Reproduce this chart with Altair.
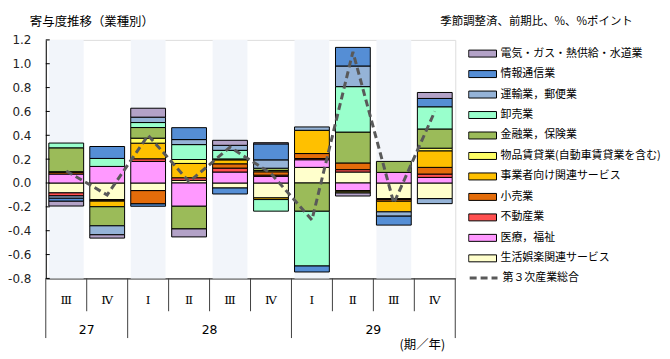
import altair as alt
import pandas as pd

# ---------------- data ----------------
quarter_labels = ["Ⅲ", "Ⅳ", "Ⅰ", "Ⅱ", "Ⅲ", "Ⅳ", "Ⅰ", "Ⅱ", "Ⅲ", "Ⅳ"]
quarter_years = ["27", "27", "28", "28", "28", "28", "29", "29", "29", "29"]
shaded = [True, False, True, False, True, False, True, False, True, False]

# stacking order (first = nearest zero)
series = [
    "生活娯楽関連サービス",
    "医療，福祉",
    "不動産業",
    "小売業",
    "事業者向け関連サービス",
    "物品賃貸業(自動車賃貸業を含む)",
    "金融業，保険業",
    "卸売業",
    "運輸業，郵便業",
    "情報通信業",
    "電気・ガス・熱供給・水道業",
]
colors = [
    "#FFFFCC",
    "#FF99FF",
    "#FF5050",
    "#E46C0A",
    "#FFC000",
    "#FFFF66",
    "#9BBB59",
    "#99FFCC",
    "#95B3D7",
    "#558ED5",
    "#B3A2C7",
]

v_seikatsu = [-0.083, -0.139, -0.064, 0.022, -0.042, -0.125, 0.131, 0.092, -0.131, -0.131]
v_iryo = [0.075, 0.139, 0.181, -0.195, 0.092, 0.056, 0.064, -0.064, 0.089, 0.047]
v_fudosan = [-0.025, -0.005, 0.022, 0.022, 0.033, 0.010, 0.010, 0.020, -0.008, 0.028]
v_kouri = [0.015, -0.008, -0.111, 0.0, 0.036, 0.028, 0.042, 0.056, -0.014, 0.056]
v_jigyosha = [0.005, -0.047, 0.131, 0.120, 0.033, -0.014, 0.195, -0.010, -0.089, 0.139]
v_buppin = [0.0, 0.0, 0.042, 0.033, 0.0, 0.010, 0.0, -0.010, 0.0, 0.022]
v_kinyu = [0.200, -0.160, 0.089, -0.190, 0.008, 0.020, -0.237, 0.259, 0.092, 0.161]
v_oroshi = [0.040, 0.067, 0.042, 0.125, 0.072, -0.097, -0.459, 0.381, 0.0, 0.186]
v_unyu = [-0.020, -0.075, 0.045, 0.042, 0.042, 0.070, 0.028, 0.173, -0.036, -0.042]
v_joho = [-0.025, 0.100, -0.020, 0.100, -0.050, 0.134, -0.050, 0.156, -0.075, 0.070]
v_denki = [-0.040, -0.028, 0.075, -0.067, 0.042, 0.010, 0.0, -0.025, 0.0, 0.050]

series_values = [v_seikatsu, v_iryo, v_fudosan, v_kouri, v_jigyosha, v_buppin,
                 v_kinyu, v_oroshi, v_unyu, v_joho, v_denki]

total_name = "第３次産業総合"
total = [0.10, -0.10, 0.40, 0.01, 0.30, 0.08, -0.31, 1.10, -0.17, 0.60]

y_ticks = [1.2, 1.0, 0.8, 0.6, 0.4, 0.2, 0.0, -0.2, -0.4, -0.6, -0.8]

title_left = "寄与度推移（業種別）"
title_right = "季節調整済、前期比、%、%ポイント"
axis_note = "(期／年)"

FONT_JP = "Noto Sans CJK JP"
FONT_NUM = "DejaVu Sans"

# ---------------- tables ----------------
rows = []
for s_i, (s, vals) in enumerate(zip(series, series_values)):
    for q_i, v in enumerate(vals):
        rows.append({"q": q_i, "series": s, "order": s_i, "value": v})
bars_df = pd.DataFrame(rows)

q_df = pd.DataFrame({
    "q": list(range(len(quarter_labels))),
    "label": quarter_labels,
    "year": quarter_years,
    "shade": shaded,
    "total": total,
    "name": [total_name] * len(total),
})
q_df["center"] = q_df["q"] + 0.5

year_df = q_df.groupby("year", as_index=False)["center"].mean()

n = len(quarter_labels)
year_bounds = [0] + [i for i in range(1, n) if quarter_years[i] != quarter_years[i - 1]] + [n]
quarter_bounds = [i for i in range(1, n) if i not in year_bounds]
sep_df = pd.DataFrame(
    [{"b": b, "kind": "year"} for b in year_bounds]
    + [{"b": b, "kind": "quarter"} for b in quarter_bounds]
)
ytick_df = pd.DataFrame({"v": y_ticks})

legend_order = series[::-1]
legend_colors = colors[::-1]

xscale = alt.Scale(domain=[0, n], nice=False, zero=False)
yscale = alt.Scale(domain=[-0.8, 1.2], nice=False, zero=False)

x_axis = alt.Axis(labels=False, ticks=False, grid=False, title=None,
                  domainColor="#000", domainWidth=1)
y_axis = alt.Axis(values=y_ticks, grid=False, ticks=False, title=None,
                  labelExpr="(datum.value < 0 ? '-' : '') + format(abs(datum.value), '.1f')",
                  labelFont=FONT_NUM, labelFontSize=12, labelColor="#222",
                  labelPadding=15, domainColor="#000", domainWidth=1)

# ---------------- layers ----------------
shade = alt.Chart(q_df).transform_filter("datum.shade").transform_calculate(
    x0="datum.q + 0.075", x1="datum.q + 0.925", ytop="1.2", ybot="-0.8"
).mark_rect(color="#F2F5FA").encode(
    x=alt.X("x0:Q", scale=xscale, axis=x_axis),
    x2="x1:Q",
    y=alt.Y("ytop:Q", scale=yscale, axis=y_axis),
    y2="ybot:Q",
)

bars = alt.Chart(bars_df).transform_filter("datum.value != 0").transform_stack(
    stack="value", groupby=["q"], sort=[alt.SortField("order", order="ascending")],
    as_=["y0", "y1"], offset="zero",
).transform_calculate(
    x0="datum.q + 0.075", x1="datum.q + 0.925"
).mark_rect(stroke="#000", strokeWidth=1).encode(
    x=alt.X("x0:Q", scale=xscale, axis=x_axis),
    x2="x1:Q",
    y=alt.Y("y0:Q", scale=yscale, axis=y_axis),
    y2="y1:Q",
    fill=alt.Fill("series:N", scale=alt.Scale(domain=legend_order, range=legend_colors),
                  legend=alt.Legend(
                      orient="none", legendX=425, legendY=8.3, title=None,
                      symbolType="M-1,-0.25H1V0.25H-1Z", symbolSize=784,
                      symbolStrokeColor="#000", symbolStrokeWidth=1,
                      symbolOpacity=1,
                      labelFont=FONT_JP, labelFontSize=11, labelColor="#000",
                      labelOffset=3.5, clipHeight=11, rowPadding=8.6, padding=0,
                      labelLimit=300,
                  )),
)

line = alt.Chart(q_df).mark_line(color="#595959", strokeWidth=3).encode(
    x=alt.X("center:Q", scale=xscale, axis=x_axis),
    y=alt.Y("total:Q", scale=yscale, axis=y_axis),
    strokeDash=alt.StrokeDash("name:N", scale=alt.Scale(domain=[total_name], range=[[7, 4]]),
                              legend=alt.Legend(
                                  orient="none", legendX=425, legendY=234, title=None,
                                  symbolType="stroke", symbolSize=784,
                                  symbolStrokeColor="#595959", symbolStrokeWidth=3,
                                  labelFont=FONT_JP, labelFontSize=11, labelColor="#000",
                                  labelOffset=3.5, clipHeight=11, padding=0,
                              )),
)

yticks = alt.Chart(ytick_df).mark_rule(color="#000", strokeWidth=1).encode(
    y=alt.Y("v:Q", scale=yscale, axis=y_axis),
    x=alt.value(0),
    x2=alt.value(4),
)

seps_q = alt.Chart(sep_df).transform_filter("datum.kind == 'quarter'").mark_rule(
    color="#404040", strokeWidth=1
).encode(
    x=alt.X("b:Q", scale=xscale, axis=x_axis),
    y=alt.value(240), y2=alt.value(273),
)
seps_y = alt.Chart(sep_df).transform_filter("datum.kind == 'year'").mark_rule(
    color="#404040", strokeWidth=1
).encode(
    x=alt.X("b:Q", scale=xscale, axis=x_axis),
    y=alt.value(240), y2=alt.value(300),
)

q_text = alt.Chart(q_df).mark_text(
    font="DejaVu Serif", fontSize=12, color="#000", baseline="middle", align="center"
).encode(
    x=alt.X("center:Q", scale=xscale, axis=x_axis),
    y=alt.value(262),
    text="label:N",
)
y_text = alt.Chart(year_df).mark_text(
    font=FONT_NUM, fontSize=12.5, color="#000", baseline="middle", align="center"
).encode(
    x=alt.X("center:Q", scale=xscale, axis=x_axis),
    y=alt.value(292),
    text="year:N",
)

note_df = pd.DataFrame({"t": [title_left, title_right, axis_note],
                        "k": ["l", "r", "n"]})
t_left = alt.Chart(note_df).transform_filter("datum.k == 'l'").mark_text(
    font=FONT_JP, fontSize=12.5, color="#000", align="left", baseline="middle"
).encode(x=alt.value(-16), y=alt.value(-17.5), text="t:N")
t_right = alt.Chart(note_df).transform_filter("datum.k == 'r'").mark_text(
    font=FONT_JP, fontSize=11.5, color="#000", align="left", baseline="middle"
).encode(x=alt.value(397), y=alt.value(-17.5), text="t:N")
t_note = alt.Chart(note_df).transform_filter("datum.k == 'n'").mark_text(
    font=FONT_JP, fontSize=12.5, color="#000", align="left", baseline="middle"
).encode(x=alt.value(356), y=alt.value(307), text="t:N")

chart = alt.layer(
    shade, bars, line, yticks, seps_q, seps_y, q_text, y_text, t_left, t_right, t_note
).properties(
    width=412, height=240,
    padding={"left": 38, "top": 31, "right": 208, "bottom": 80},
    autosize=alt.AutoSizeParams(type="none"),
).configure_view(stroke=None).configure(background="#ffffff")

chart.save("out.html", embed_options={"renderer": "svg", "actions": False})
